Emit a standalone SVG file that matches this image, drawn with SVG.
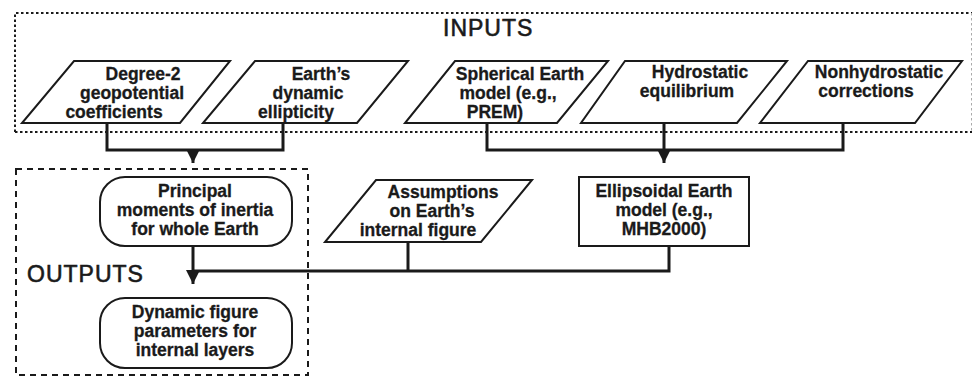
<svg xmlns="http://www.w3.org/2000/svg" width="973" height="377" viewBox="0 0 973 377">
<style>
.t{font-family:"Liberation Sans",Arial,sans-serif;font-weight:bold;font-size:17.5px;fill:#1a1a1a;stroke:#1a1a1a;stroke-width:0.3;text-anchor:middle}
.h{font-family:"Liberation Sans",Arial,sans-serif;font-size:23px;fill:#1a1a1a;stroke:#1a1a1a;stroke-width:0.6;letter-spacing:1px}
.n{fill:#fff;stroke:#1a1a1a;stroke-width:2}
.c{fill:none;stroke:#1a1a1a;stroke-width:3}
</style>
<defs>
<marker id="ah" markerUnits="userSpaceOnUse" markerWidth="14" markerHeight="14" viewBox="0 0 14 14" refX="7" refY="14" orient="0">
<path d="M0,0 L14,0 L7,14 Z" fill="#1a1a1a"/>
</marker>
</defs>
<rect width="973" height="377" fill="#fff"/>
<g id="inputs-frame">
<path d="M15,132 L15,13 L972,13" fill="none" stroke="#1a1a1a" stroke-width="2" stroke-dasharray="2.5,2.5"/>
<path d="M15,132 L972,132" fill="none" stroke="#1a1a1a" stroke-width="2" stroke-dasharray="2.5,2.5"/>
<path d="M971.5,13 L971.5,132" fill="none" stroke="#aaa" stroke-width="1" stroke-dasharray="2.5,2.5"/>
<text class="h" x="443" y="36">INPUTS</text>
</g>
<g id="outputs-frame">
<rect x="16" y="169" width="292" height="206" fill="none" stroke="#1a1a1a" stroke-width="2" stroke-dasharray="6,5"/>
<text class="h" x="27" y="282">OUTPUTS</text>
</g>
<g id="connectors">
<path class="c" d="M107,123 L107,150 L283,150 L283,123"/>
<path class="c" d="M193,150 L193,163" marker-end="url(#ah)"/>
<path class="c" d="M487,123 L487,150 L843,150 L843,123"/>
<path class="c" d="M664,123 L664,163" marker-end="url(#ah)"/>
<path class="c" d="M193,246 L193,284" marker-end="url(#ah)"/>
<path class="c" d="M669,246 L669,271 L193,271"/>
<path class="c" d="M408,242 L408,271"/>
</g>
<g id="degree2">
<polygon class="n" points="74,61 230,61 180,123 22,123"/>
<text class="t"><tspan x="143" y="80">Degree-2</tspan><tspan x="132" y="99">geopotential</tspan><tspan x="114" y="118">coefficients</tspan></text>
</g>
<g id="ellipticity">
<polygon class="n" points="255,61 408,61 357,123 203,123"/>
<text class="t"><tspan x="321" y="80">Earth’s</tspan><tspan x="308" y="99">dynamic</tspan><tspan x="296" y="118">ellipticity</tspan></text>
</g>
<g id="spherical">
<polygon class="n" points="455,61 608,61 557,123 405,123"/>
<text class="t"><tspan x="520" y="80">Spherical Earth</tspan><tspan x="508" y="99">model (e.g.,</tspan><tspan x="495" y="118">PREM)</tspan></text>
</g>
<g id="hydrostatic">
<polygon class="n" points="625,61 787,61 737,123 581,123"/>
<text class="t"><tspan x="700" y="78">Hydrostatic</tspan><tspan x="687" y="97">equilibrium</tspan></text>
</g>
<g id="nonhydrostatic">
<polygon class="n" points="808,61 962,61 915,123 760,123"/>
<text class="t"><tspan x="879" y="78">Nonhydrostatic</tspan><tspan x="866" y="97">corrections</tspan></text>
</g>
<g id="principal">
<rect class="n" x="100" y="177" width="192" height="69" rx="25"/>
<text class="t"><tspan x="195" y="197">Principal</tspan><tspan x="195" y="216">moments of inertia</tspan><tspan x="195" y="235">for whole Earth</tspan></text>
</g>
<g id="assumptions">
<polygon class="n" points="376,180 532,180 481,242 325,242"/>
<text class="t"><tspan x="443" y="198">Assumptions</tspan><tspan x="432" y="217">on Earth’s</tspan><tspan x="418" y="236">internal figure</tspan></text>
</g>
<g id="ellipsoidal">
<rect class="n" x="579" y="177" width="170" height="69"/>
<text class="t"><tspan x="664" y="197">Ellipsoidal Earth</tspan><tspan x="664" y="216">model (e.g.,</tspan><tspan x="664" y="235">MHB2000)</tspan></text>
</g>
<g id="dynamic">
<rect class="n" x="100" y="298" width="192" height="70" rx="25"/>
<text class="t"><tspan x="195" y="318">Dynamic figure</tspan><tspan x="195" y="337">parameters for</tspan><tspan x="195" y="356">internal layers</tspan></text>
</g>
</svg>
